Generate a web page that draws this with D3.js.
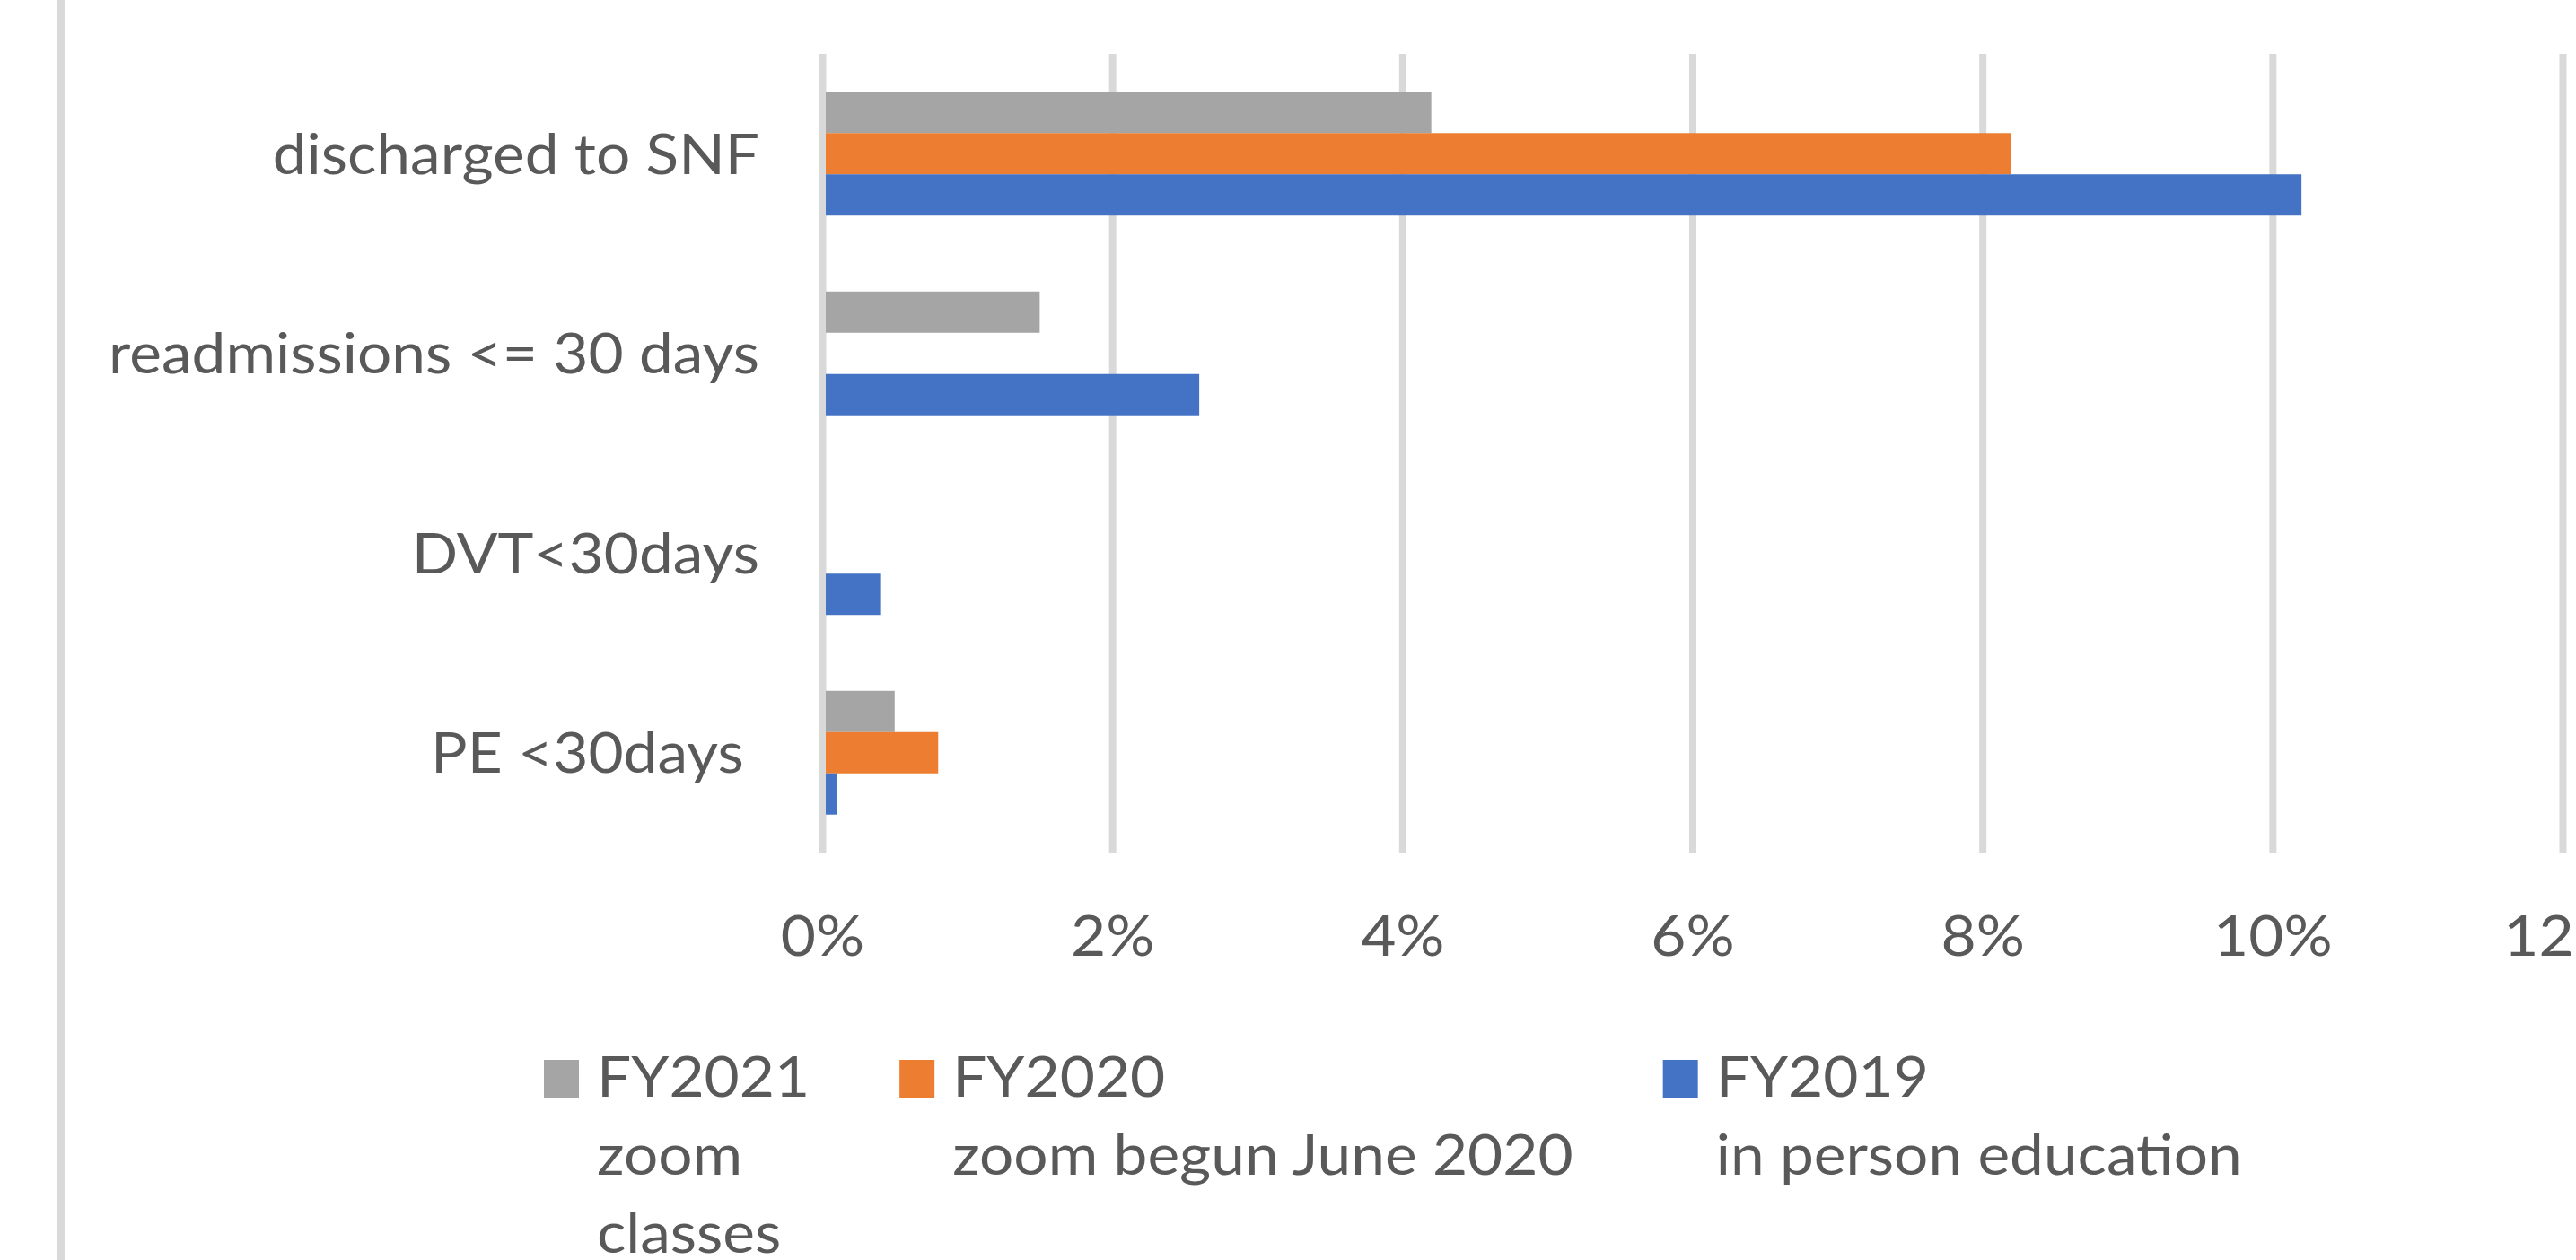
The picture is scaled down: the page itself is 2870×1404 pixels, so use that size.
<!DOCTYPE html>
<html>
<head>
<meta charset="utf-8">
<script src="https://cdn.jsdelivr.net/npm/d3@7"></script>
<style>
  body { margin: 0; background: #fff; }
  svg text { font-family: Lato, "Open Sans", sans-serif; fill: #595959; white-space: pre; }
</style>
</head>
<body>
<div id="container"></div>
<script>
//------------------------1. DATA------------------------//
var categories = ["discharged to SNF", "readmissions <= 30 days", "DVT<30days", "PE <30days "];
var seriesNames = ["FY2021", "FY2020", "FY2019"];
var seriesNotes = [["zoom", "classes"], ["zoom begun June 2020"], ["in person education"]];
var seriesColors = ["#a5a5a5", "#ed7d31", "#4472c4"];
// percent values, null = no bar
var fy2021 = [4.2, 1.5, null, 0.5];
var fy2020 = [8.2, null, null, 0.8];
var fy2019 = [10.2, 2.6, 0.4, 0.1];
var xTicks = [0, 2, 4, 6, 8, 10, 12];

var seriesValues = [fy2021, fy2020, fy2019];

//------------------------2. PREPARATION------------------------//
var width = 2870, height = 1404;
var fontSize = 62;
var condense = 1.09; // horizontal stretch so Lato matches the original label widths
var gridColor = "#d9d9d9";

var svg = d3.select("div#container").append("svg")
    .attr("width", width)
    .attr("height", height)
    .style("display", "block");

svg.append("rect").attr("width", width).attr("height", height).attr("fill", "#fff");

//----------------------------SCALES----------------------------//
var plotTop = 60, plotBottom = 950;
var xScale = d3.scaleLinear().domain([0, 12]).range([916, 2855]);
var yScale = d3.scaleBand()
    .domain(categories)
    .range([plotTop, plotBottom])
    .paddingInner(0.38)
    .paddingOuter(0.19);
var ySub = d3.scaleBand()
    .domain(seriesNames)
    .range([0, yScale.bandwidth()]);

//------------------------3. DRAWING---------------------------//
// border line on the left
svg.append("line")
    .attr("x1", 68).attr("x2", 68)
    .attr("y1", 0).attr("y2", height)
    .attr("stroke", gridColor)
    .attr("stroke-width", 8);

//-----------------------------AXES-----------------------------//
var xAxis = svg.append("g")
    .attr("transform", "translate(0," + plotBottom + ")")
    .call(d3.axisBottom(xScale)
        .tickValues(xTicks)
        .tickSize(-(plotBottom - plotTop))
        .tickFormat(function(d) { return d + "%"; }));

xAxis.select(".domain").remove();
xAxis.attr("font-family", null).attr("font-size", fontSize);
xAxis.selectAll("line")
    .attr("stroke", gridColor)
    .attr("stroke-width", 8);
xAxis.selectAll("text")
    .attr("y", 0)
    .attr("dy", null)
    .attr("fill", null)
    .attr("transform", "translate(0,115) scale(" + condense + ",1)");

var yAxis = svg.append("g")
    .attr("transform", "translate(846,0)")
    .call(d3.axisLeft(yScale).tickSize(0).tickPadding(0));

yAxis.select(".domain").remove();
yAxis.attr("font-family", null).attr("font-size", fontSize);
yAxis.selectAll("text")
    .attr("x", 0)
    .attr("dy", "0.36em")
    .attr("fill", null)
    .attr("transform", "scale(" + condense + ",1)");

//----------------------------BARS-----------------------------//
var bars = svg.selectAll(".series")
    .data(seriesNames)
    .enter()
    .append("g")
    .attr("class", "series")
    .attr("fill", function(d, i) { return seriesColors[i]; });

bars.selectAll("rect")
    .data(function(d, i) {
        return categories.map(function(c, j) {
            return { cat: c, series: d, value: seriesValues[i][j] };
        }).filter(function(e) { return e.value !== null; });
    })
    .enter()
    .append("rect")
    .attr("x", xScale(0))
    .attr("y", function(d) { return yScale(d.cat) + ySub(d.series); })
    .attr("width", function(d) { return xScale(d.value) - xScale(0); })
    .attr("height", ySub.bandwidth());

// zero line sits on top of the bar starts
svg.append("line")
    .attr("x1", xScale(0)).attr("x2", xScale(0))
    .attr("y1", plotTop).attr("y2", plotBottom)
    .attr("stroke", gridColor)
    .attr("stroke-width", 8);

//----------------------------LEGEND-----------------------------//
var legend = svg.append("g").attr("font-size", fontSize);
var cursor = 606, legendY = 1181;

seriesNames.forEach(function(name, i) {
    var item = legend.append("g")
        .attr("transform", "translate(" + cursor + "," + legendY + ")");
    item.append("rect")
        .attr("width", 39)
        .attr("height", 42)
        .attr("fill", seriesColors[i]);

    var lines = [name].concat(seriesNotes[i]);
    var maxW = 0;
    lines.forEach(function(t, j) {
        var txt = item.append("text")
            .attr("transform", "translate(59," + (41 + j * 87) + ") scale(" + condense + ",1)")
            .text(t);
        maxW = Math.max(maxW, txt.node().getComputedTextLength() * condense);
    });
    cursor += 59 + maxW + 100;
});
</script>
</body>
</html>
